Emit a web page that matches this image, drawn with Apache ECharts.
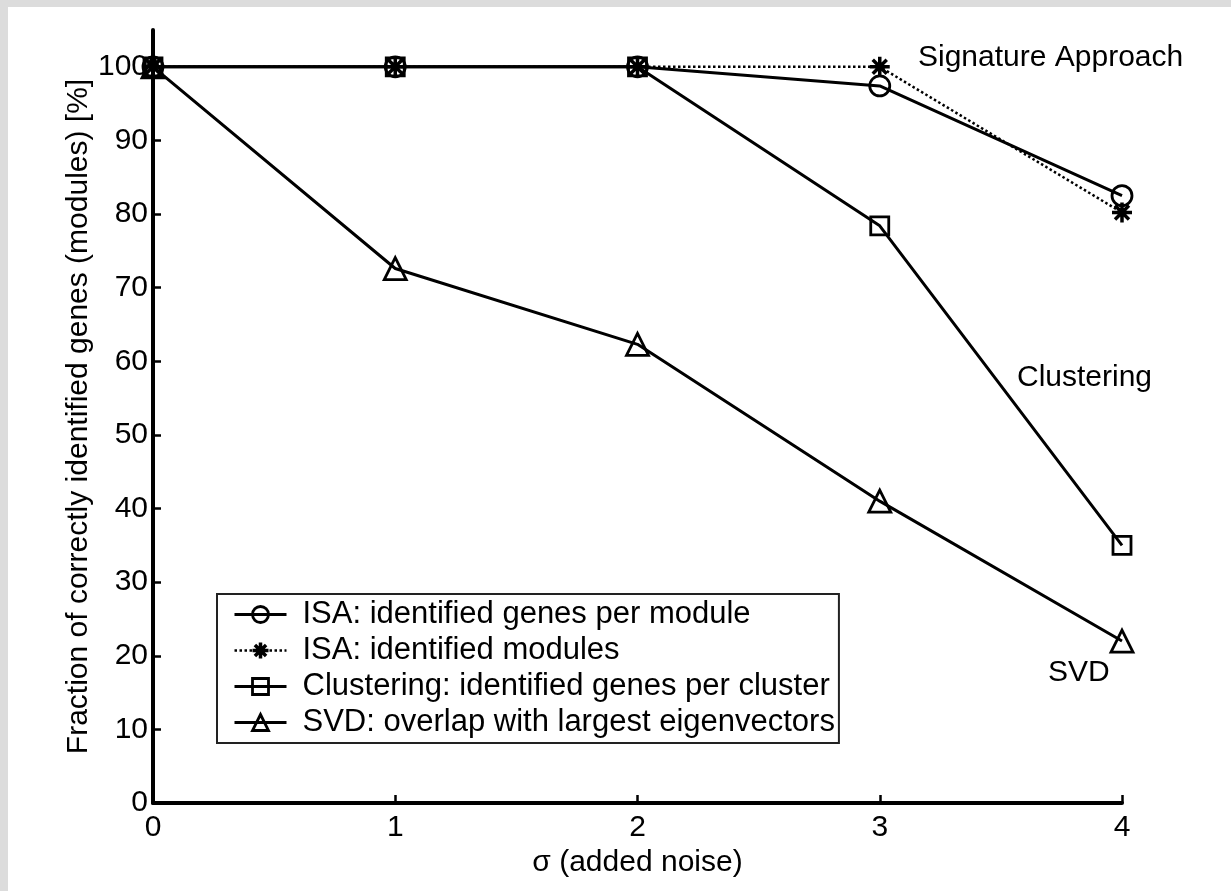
<!DOCTYPE html>
<html>
<head>
<meta charset="utf-8">
<script src="https://cdn.jsdelivr.net/npm/echarts@6/dist/echarts.min.js"></script>
<style>
  html, body { margin: 0; padding: 0; background: #dcdcdc; }
  #ec { position: absolute; left: 8px; top: 7px; width: 1223px; height: 884px; background: #fff; }
</style>
</head>
<body>
<div id="ec"></div>
<script>
// sigma (added noise) on the x axis
var noise = [0, 1, 2, 3, 4];
var xTicks = [0, 1, 2, 3, 4];
var yTicks = [0, 10, 20, 30, 40, 50, 60, 70, 80, 90, 100];

// values, in %
var isaGenes = [100, 100, 100, 97.4, 82.5];
var isaModules = [100, 100, 100, 100, 80.2];
var clustering = [100, 100, 100, 78.4, 35];
var svd = [100, 72.6, 62.3, 41, 22];

var seriesNames = [
  "ISA: identified genes per module",
  "ISA: identified modules",
  "Clustering: identified genes per cluster",
  "SVD: overlap with largest eigenvectors"
];

var FONT = "'Liberation Sans', Arial, Helvetica, sans-serif";
var starPath = "path://M0,-10L0,10M-10,0L10,0M-7,-7L7,7M-7,7L7,-7";

function pairs(ys) {
  return noise.map(function (x, i) { return [x, ys[i]]; });
}

function markerStyle(symbol) {
  return {
    color: symbol === starPath ? "#000" : "rgba(255,255,255,0)",
    borderColor: "#000",
    borderWidth: symbol === starPath ? 3.5 : 2.8
  };
}

function lineSeries(name, ys, symbol, size, dotted) {
  return {
    name: name,
    type: "line",
    data: pairs(ys),
    symbol: symbol,
    symbolSize: size,
    lineStyle: { color: "#000", width: dotted ? 2.5 : 3, type: dotted ? "dotted" : "solid" },
    itemStyle: markerStyle(symbol),
    emphasis: { disabled: true },
    z: 3
  };
}

function legendItem(name, symbol, dotted) {
  return {
    name: name,
    lineStyle: { color: "#000", width: dotted ? 2.5 : 3, type: dotted ? "dotted" : "solid" },
    itemStyle: markerStyle(symbol)
  };
}

var myChart = echarts.init(document.getElementById("ec"), null, { renderer: "canvas" });

myChart.setOption({
  animation: false,
  backgroundColor: "#fff",
  textStyle: { fontFamily: FONT, color: "#000" },
  grid: { left: 145, right: 109, top: 23, bottom: 88 },
  xAxis: {
    type: "value",
    min: 0,
    max: 4,
    interval: 1,
    name: "σ (added noise)",
    nameLocation: "middle",
    nameGap: 35,
    nameTextStyle: { fontSize: 30, color: "#000", fontFamily: FONT },
    axisLine: { lineStyle: { color: "#000", width: 4 } },
    axisTick: { inside: true, length: 8, lineStyle: { color: "#000", width: 2.5 }, customValues: xTicks },
    axisLabel: { fontSize: 30, color: "#000", margin: 10, fontFamily: FONT, customValues: xTicks },
    splitLine: { show: false }
  },
  yAxis: {
    type: "value",
    min: 0,
    max: 105,
    name: "Fraction of correctly identified genes (modules) [%]",
    nameLocation: "middle",
    nameGap: 59,
    nameMoveOverlap: false,
    nameTextStyle: { fontSize: 30, color: "#000", fontFamily: FONT },
    axisLine: { lineStyle: { color: "#000", width: 4 } },
    axisTick: { inside: true, length: 8, lineStyle: { color: "#000", width: 2.5 }, customValues: yTicks },
    axisLabel: { fontSize: 30, color: "#000", margin: 5, fontFamily: FONT, customValues: yTicks },
    splitLine: { show: false }
  },
  legend: {
    orient: "vertical",
    left: 209,
    top: 587,
    data: [
      legendItem(seriesNames[0], "circle", false),
      legendItem(seriesNames[1], starPath, true),
      legendItem(seriesNames[2], "rect", false),
      legendItem(seriesNames[3], "triangle", false)
    ],
    itemWidth: 52,
    itemHeight: 20,
    itemGap: 5,
    padding: [5, 4, 5, 16],
    borderColor: "#222",
    borderWidth: 2,
    backgroundColor: "#fff",
    selectedMode: false,
    textStyle: { fontSize: 31, lineHeight: 29, color: "#000", fontFamily: FONT, padding: [0, 0, 0, 11] }
  },
  graphic: [
    { type: "text", left: 910, top: 36, style: { text: "Signature Approach", font: "30px " + FONT, fill: "#000" } },
    { type: "text", left: 1009, top: 356, style: { text: "Clustering", font: "30px " + FONT, fill: "#000" } },
    { type: "text", left: 1040, top: 651, style: { text: "SVD", font: "30px " + FONT, fill: "#000" } }
  ],
  series: [
    lineSeries(seriesNames[3], svd, "triangle", 22, false),
    lineSeries(seriesNames[2], clustering, "rect", 18, false),
    lineSeries(seriesNames[1], isaModules, starPath, 20, true),
    lineSeries(seriesNames[0], isaGenes, "circle", 20, false)
  ]
});
</script>
</body>
</html>
